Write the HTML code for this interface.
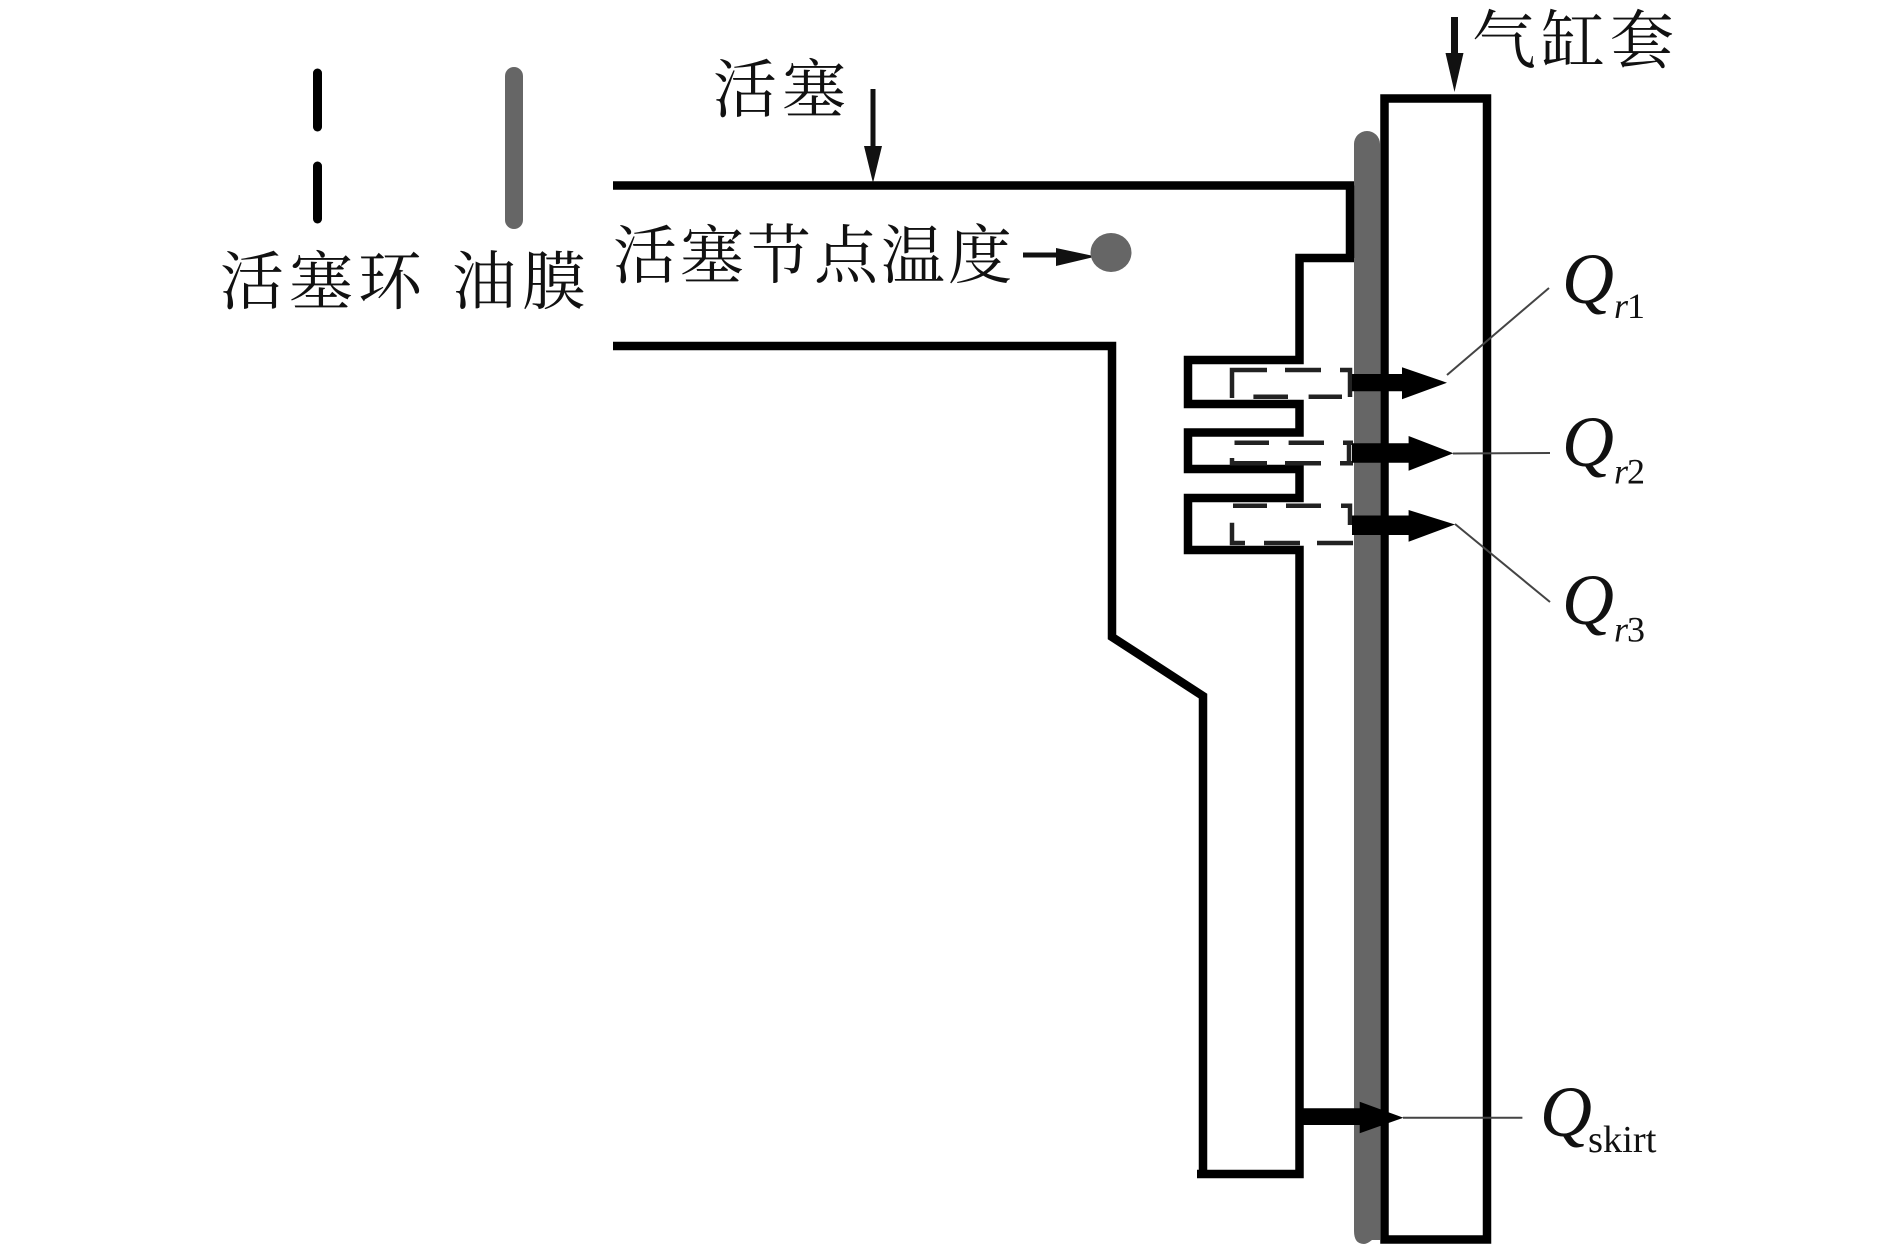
<!DOCTYPE html>
<html lang="zh">
<head>
<meta charset="utf-8">
<title>活塞传热示意图</title>
<style>
html,body{margin:0;padding:0;background:#fff;width:1890px;height:1249px;overflow:hidden}
svg{display:block}
.cn{font-family:"Liberation Serif","Noto Serif CJK SC",serif;font-size:64px;fill:#111}
.q{font-family:"Liberation Serif",serif;font-style:italic;font-size:72px;fill:#111}
.s{font-family:"Liberation Serif",serif;font-style:italic;font-size:36px;fill:#111}
.sk{font-family:"Liberation Serif",serif;font-size:36px;fill:#111}
</style>
</head>
<body>
<svg width="1890" height="1249" viewBox="0 0 1890 1249" xmlns="http://www.w3.org/2000/svg">
<rect width="1890" height="1249" fill="#fff"/>

<!-- legend -->
<line x1="317.500" y1="73" x2="317.500" y2="127" stroke="#000" stroke-width="9" stroke-linecap="round"/>
<line x1="317.500" y1="166" x2="317.500" y2="219" stroke="#000" stroke-width="9" stroke-linecap="round"/>
<line x1="514" y1="76" x2="514" y2="220" stroke="#666" stroke-width="18" stroke-linecap="round"/>
<text class="cn" x="220" y="304" textLength="202" lengthAdjust="spacing">活塞环</text>
<text class="cn" x="452" y="304" textLength="134" lengthAdjust="spacing">油膜</text>
<text class="cn" x="713" y="112" textLength="133" lengthAdjust="spacing">活塞</text>
<text class="cn" x="613" y="278" textLength="399" lengthAdjust="spacing">活塞节点温度</text>
<text class="cn" x="1472" y="63" textLength="202" lengthAdjust="spacing">气缸套</text>

<!-- oil film -->
<path d="M1354 144a13 13 0 0 1 26 0V1240H1372Q1367 1244 1364 1244Q1354 1244 1354 1231Z" fill="#666"/>

<!-- cylinder liner -->
<rect x="1384.500" y="98.500" width="102.500" height="1141" fill="none" stroke="#000" stroke-width="8.500"/>

<!-- piston outline -->
<path d="M613 185.500H1354M1350 185.500V258M1354 258H1299.500V360H1188V404H1299.500V432.500H1188V469H1299.500V498H1188V550H1299.500V1174H1197M1203 1174V696L1112 637V346H613" fill="none" stroke="#000" stroke-width="8.500" stroke-linejoin="miter"/>

<!-- ring dashes -->
<g stroke="#222" stroke-width="4.500" fill="none">
<path d="M1232 398V370H1267M1285 370H1321M1340 370H1350V397M1253.400 396.700H1288M1308.600 396.700H1342"/>
<path d="M1234.500 442.700H1269M1288.600 442.700H1324M1343 442.700H1353M1349 442.700V463.300M1232 458V463.300H1267M1285 463.300H1321M1340 463.300H1353"/>
<path d="M1233 505.700H1267M1286 505.700H1321M1341 505.700H1350V525M1232 522.700V543H1245M1264 543H1300M1317 543H1353"/>
</g>

<!-- leaders -->
<g stroke="#444" stroke-width="2" fill="none">
<line x1="1447" y1="375" x2="1549" y2="288"/>
<line x1="1453" y1="453.500" x2="1550" y2="453"/>
<line x1="1455" y1="524" x2="1550" y2="602"/>
<line x1="1403" y1="1117.700" x2="1522.400" y2="1117.700"/>
</g>

<!-- heat arrows -->
<path d="M1352 374H1402V367.300L1447 382.700L1402 399.300V391.300H1352Z" fill="#000"/>
<path d="M1352 443.300H1408.600V436L1453.400 453.300L1408.600 470.700V462.700H1352Z" fill="#000"/>
<path d="M1352 515.500H1408.600V510L1455 524.500L1408.600 541.700V535H1352Z" fill="#000"/>
<path d="M1301.700 1108.300H1359.700V1101.700L1403.400 1117.700L1359.700 1133.300V1125H1301.700Z" fill="#000"/>

<!-- pointer arrows -->
<path d="M1451 17H1458V53H1463.500L1454.500 92L1445.500 53H1451Z" fill="#111"/>
<path d="M870.500 89H875.500V146H882L873 183L864 146H870.500Z" fill="#111"/>
<path d="M1023 252.500H1056V248L1096 256.500L1056 266V257.500H1023Z" fill="#111"/>

<!-- node dot -->
<ellipse cx="1111" cy="252.500" rx="20.500" ry="19.500" fill="#666"/>

<!-- Q labels -->
<text class="q" x="1562" y="303">Q</text>
<text class="s" x="1614" y="318">r</text><text class="sk" x="1627" y="318">1</text>
<text class="q" x="1562" y="466">Q</text>
<text class="s" x="1614" y="483.500">r</text><text class="sk" x="1627" y="483.500">2</text>
<text class="q" x="1562" y="624">Q</text>
<text class="s" x="1614" y="641.500">r</text><text class="sk" x="1627" y="641.500">3</text>
<text class="q" x="1540" y="1136">Q</text>
<text class="sk" x="1588" y="1152" style="font-size:38.500px">skirt</text>
</svg>
</body>
</html>
